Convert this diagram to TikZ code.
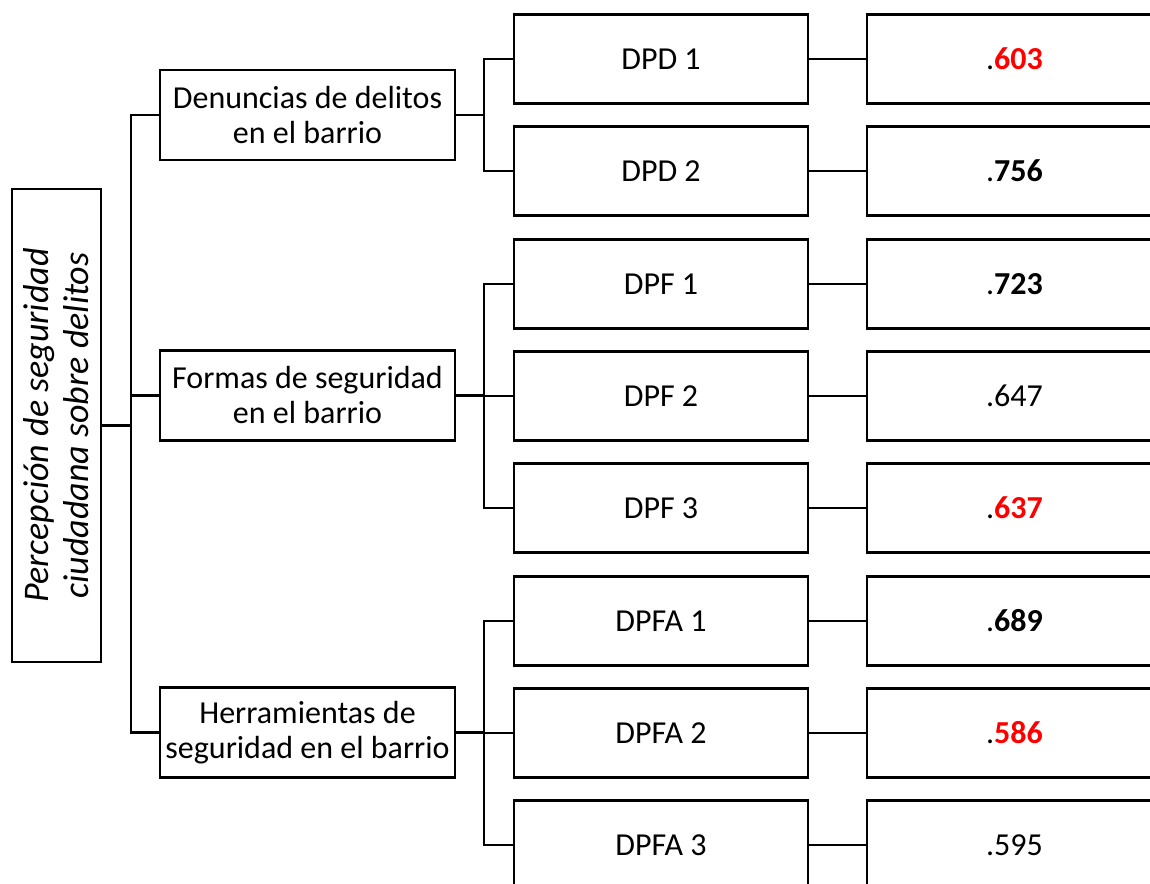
\documentclass[tikz,border=0pt]{standalone}
\usepackage{fontspec}
\setmainfont{Carlito}
\definecolor{hired}{RGB}{255,0,0}
\begin{document}
\begin{tikzpicture}[x=1pt,y=1pt,
  box/.style={draw=black,line width=2.4pt,fill=white,inner sep=0pt,align=center,
    font=\fontsize{32}{35}\selectfont},
  midbox/.style={box,minimum width=295pt,minimum height=90pt},
  leafbox/.style={box,minimum width=294pt,minimum height=89pt},
  valbox/.style={box,minimum width=295pt,minimum height=89pt},
  conn/.style={line width=2.4pt,line cap=rect}]
\useasboundingbox (0,0) rectangle (1150,-883);
\clip (0,0) rectangle (1150,-883);
% root
\node[box,rotate=90,minimum width=473pt,minimum height=89pt,font=\fontsize{36}{40}\selectfont\itshape] (root) at (56.5,-425.5)
  {Percepción de seguridad\\ciudadana sobre delitos};
% middle
\node[midbox] (m1) at (307.5,-115) {Denuncias de delitos\\en el barrio};
\node[midbox] (m2) at (307.5,-395.5) {Formas de seguridad\\en el barrio};
\node[midbox] (m3) at (307.5,-732.5) {Herramientas de\\seguridad en el barrio};
% leaves
\foreach \n/\y/\t in {l1/59/DPD 1,l2/171/DPD 2,l3/284/DPF 1,l4/396/DPF 2,l5/508/DPF 3,l6/621/DPFA 1,l7/733/DPFA 2,l8/845/DPFA 3}
  \node[leafbox] (\n) at (661,-\y) {\t};
% values
\node[valbox] (v1) at (1014.5,-59) {.\textbf{\textcolor{hired}{603}}};
\node[valbox] (v2) at (1014.5,-171) {.\textbf{756}};
\node[valbox] (v3) at (1014.5,-284) {.\textbf{723}};
\node[valbox] (v4) at (1014.5,-396) {.647};
\node[valbox] (v5) at (1014.5,-508) {.\textbf{\textcolor{hired}{637}}};
\node[valbox] (v6) at (1014.5,-621) {.\textbf{689}};
\node[valbox] (v7) at (1014.5,-733) {.\textbf{\textcolor{hired}{586}}};
\node[valbox] (v8) at (1014.5,-845) {.595};
% root connectors
\coordinate (j0) at (131,-425.5);
\draw[conn] (root.south) -- (j0);
\draw[conn] (m1.west) -| (j0) |- (m3.west);
\draw[conn] (m2.west) -- (m2.west -| j0);
% middle to leaves
\coordinate (j1) at (484,-115);
\coordinate (j2) at (484,-395.5);
\coordinate (j3) at (484,-732.5);
\draw[conn] (m1.east) -- (j1);
\draw[conn] (l1.west) -| (j1) |- (l2.west);
\draw[conn] (m2.east) -- (j2);
\draw[conn] (l3.west) -| (j2) |- (l5.west);
\draw[conn] (l4.west) -- (l4.west -| j2);
\draw[conn] (m3.east) -- (j3);
\draw[conn] (l6.west) -| (j3) |- (l8.west);
\draw[conn] (l7.west) -- (l7.west -| j3);
% leaves to values
\foreach \i in {1,...,8} \draw[conn] (l\i.east) -- (v\i.west);
\end{tikzpicture}
\end{document}
